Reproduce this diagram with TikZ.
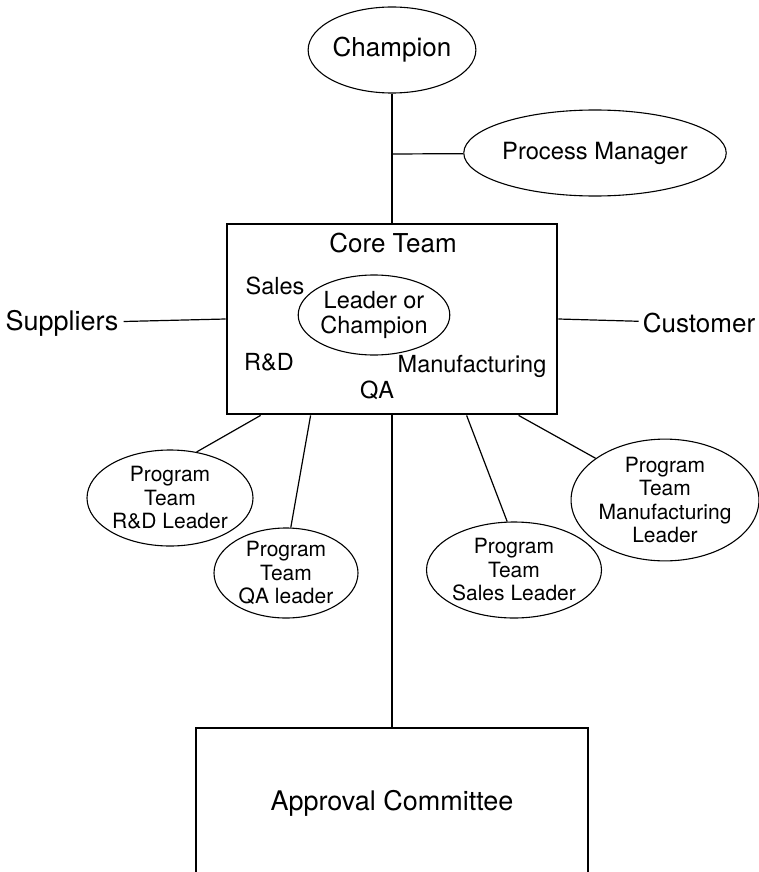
\documentclass[tikz,border=0pt]{standalone}
\usepackage{fontspec}
\setmainfont{TeX Gyre Heros}
\usetikzlibrary{shapes.geometric}
\tikzset{
  bigtext/.style={font=\fontsize{26}{28}\selectfont},
  midtext/.style={font=\fontsize{23.5}{25}\selectfont},
  smalltext/.style={font=\fontsize{21}{23.5}\selectfont},
  oval/.style={draw,ellipse,line width=1.1pt,inner sep=0pt,align=center},
  box/.style={draw,rectangle,line width=2.8pt,inner sep=0pt},
  link/.style={line width=1.2pt}
}
\begin{document}
\begin{tikzpicture}[x=1pt,y=-1pt]
      \useasboundingbox (0,0) rectangle (759,872);
      \node[oval,bigtext,minimum width=160pt,minimum height=86pt] (champion) at (392,50) {Champion};
      \node[oval,font=\fontsize{23.7}{25}\selectfont,minimum width=206pt,minimum height=86pt] (procmgr) at (595,153) {Process Manager};
      \node[box,minimum width=330pt,minimum height=190pt] (coreteam) at (392,319) {};
      \node[bigtext] (coretitle) at (393,243) {Core Team};
      \node[midtext] (sales) at (275,286) {Sales};
      \node[oval,midtext,minimum width=138pt,minimum height=80pt] (leader) at (374,315) {Leader or\\Champion};
      \node[midtext] (rnd) at (269,362) {R\&D};
      \node[midtext] (manuf) at (472,366) {Manufacturing};
      \node[midtext] (qa) at (377,390) {QA};
      \node[font=\fontsize{27}{29}\selectfont,inner sep=5pt] (suppliers) at (62,323) {Suppliers};
      \node[bigtext,inner sep=4pt] (customer) at (699,323) {Customer};
      \node[oval,smalltext,minimum width=166pt,minimum height=96pt] (rdlead) at (170,498) {Program\\Team\\R\&D Leader};
      \node[oval,smalltext,minimum width=144pt,minimum height=90pt] (qalead) at (286,573) {Program\\Team\\QA leader};
      \node[oval,smalltext,minimum width=148pt,minimum height=96pt] (saleslead) at (514,570) {Program\\Team\\Sales Leader};
      \node[oval,smalltext,minimum width=156pt,minimum height=112pt] (mfglead) at (665,500) {Program\\Team\\Manufacturing\\Leader};
      \node[box,font=\fontsize{27}{29}\selectfont,minimum width=392pt,minimum height=150pt] (approval) at (392,803) {Approval Committee};
      \coordinate (branch) at (392,154);
      \path (coreteam.south west) ++(35,0) coordinate (c1)
            ++(50,0) coordinate (c2)
            ++(156,0) coordinate (c3)
            ++(52,0) coordinate (c4);
      \begin{scope}[link]
        \draw (champion) -- (coreteam);
        \draw (branch) -- (procmgr);
        \draw (suppliers) -- (coreteam.west);
        \draw (coreteam.east) -- (customer);
        \draw (c1) -- (rdlead.60);
        \draw (c2) -- (qalead.84);
        \draw (c3) -- (saleslead.98);
        \draw (c4) -- (mfglead.149);
        \draw (coreteam) -- (approval);
      \end{scope}
    \end{tikzpicture}
\end{document}
